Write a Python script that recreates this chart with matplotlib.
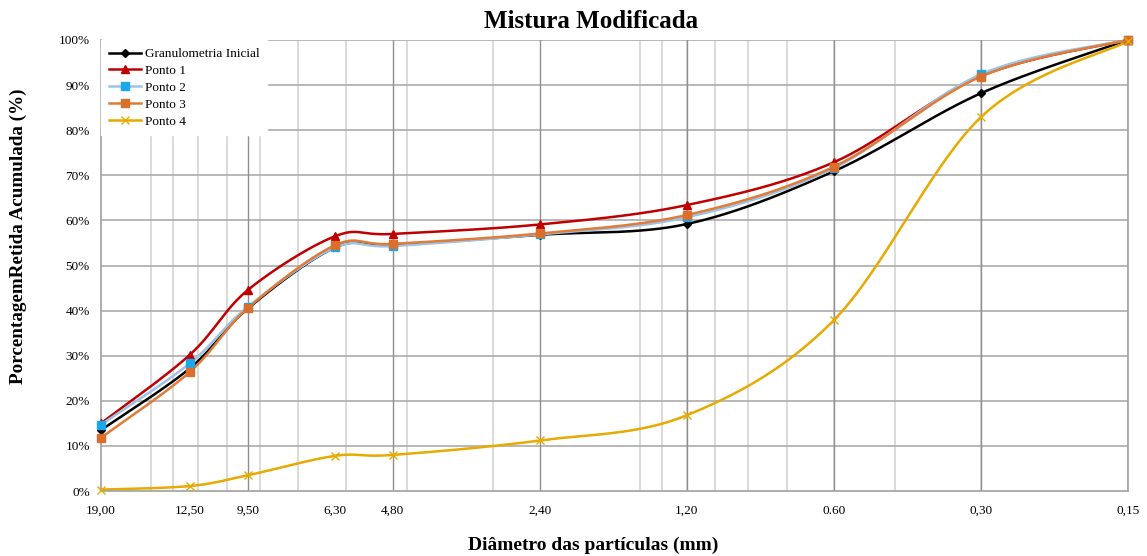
import numpy as np
import matplotlib
matplotlib.use("Agg")
import matplotlib.pyplot as plt
from matplotlib.ticker import FixedLocator, FuncFormatter, NullLocator

plt.rcParams['font.family'] = ['Liberation Serif', 'DejaVu Serif']

# sieve openings (mm)
diametros = [19.0, 12.5, 9.5, 6.3, 4.8, 2.4, 1.2, 0.6, 0.3, 0.15]
rotulos_x = ['19,00', '12,50', '9,50', '6,30', '4,80', '2,40', '1,20', '0.60', '0,30', '0,15']

# % retained (cumulative)
granulometria_inicial = [13.5, 27.2, 40.5, 54.0, 54.5, 56.8, 59.2, 70.9, 88.2, 100.0]
ponto_1 = [15.0, 30.2, 44.6, 56.5, 57.0, 59.1, 63.4, 72.9, 92.0, 100.0]
ponto_2 = [14.7, 28.3, 40.9, 54.0, 54.3, 56.9, 60.7, 71.6, 92.4, 100.0]
ponto_3 = [11.8, 26.4, 40.6, 54.5, 54.8, 57.1, 61.2, 71.9, 91.9, 100.0]
ponto_4 = [0.3, 1.1, 3.5, 7.8, 8.0, 11.2, 16.8, 37.9, 82.9, 99.7]


def suavizar(x, y, n=40):
    # Excel-like smoothed line (Catmull-Rom bezier in log-x space)
    u = np.log10(np.asarray(x, float))
    P = np.column_stack([u, np.asarray(y, float)])
    P = np.vstack([P[0], P, P[-1]])
    t = np.linspace(0, 1, n)[:, None]
    out = []
    for i in range(1, len(P) - 2):
        p0, p1, p2, p3 = P[i - 1], P[i], P[i + 1], P[i + 2]
        c1 = p1 + (p2 - p0) / 6
        c2 = p2 - (p3 - p1) / 6
        seg = ((1 - t) ** 3) * p1 + 3 * ((1 - t) ** 2) * t * c1 + 3 * (1 - t) * t ** 2 * c2 + t ** 3 * p2
        out.append(seg)
    out = np.vstack(out)
    return 10 ** out[:, 0], out[:, 1]


W, H = 1147, 556
fig = plt.figure(figsize=(W / 100, H / 100), dpi=100)
ax = fig.add_axes([101 / W, 1 - 491 / H, (1128 - 101) / W, (491 - 40) / H])

ax.set_xscale('log')
ax.set_xlim(19.0, 0.15)
ax.set_ylim(0, 100)

# minor gridlines as in Excel log axis based at 0.15
grade = [0.15 * k * 10 ** e for e in range(0, 3) for k in range(2, 10)]
grade = [g for g in grade if 0.15 < g < 19] + [1.5, 15.0]
for g in grade:
    ax.axvline(g, color='#d4d4d4', lw=1.2, zorder=0)
for g in [9.5, 4.8, 2.4, 1.2, 0.6, 0.3, 0.15]:
    ax.axvline(g, color='#8f8f8f', lw=1.0, zorder=0.5)
for yv in range(10, 101, 10):
    ax.axhline(yv, color='#ababab', lw=1.2, zorder=0.4)

series = [
    ('Granulometria Inicial', granulometria_inicial, '#000000', '#000000', 'D', 4),
    ('Ponto 1', ponto_1, '#C00000', '#C00000', '^', 6),
    ('Ponto 2', ponto_2, '#9DC3E6', '#1AA7EC', 's', 6),
    ('Ponto 3', ponto_3, '#E07B39', '#D96F2B', 's', 6),
    ('Ponto 4', ponto_4, '#E6AA00', '#E6AA00', 'x', 6),
]
for nome, vals, cor, cor_m, mk, ms in series:
    xs, ys = suavizar(diametros, vals)
    ax.plot(xs, ys, color=cor, lw=1.8, zorder=2, clip_on=False)
    ax.plot(diametros, vals, linestyle='none', marker=mk, markersize=ms,
            color=cor_m, markeredgecolor=cor_m, zorder=3, clip_on=False)
    ax.plot([], [], color=cor, lw=1.8, marker=mk, markersize=ms,
            markerfacecolor=cor_m, markeredgecolor=cor_m, label=nome)

ax.xaxis.set_major_locator(FixedLocator(diametros))
ax.xaxis.set_minor_locator(NullLocator())
ax.set_xticklabels(rotulos_x)
ax.set_yticks(range(0, 101, 10))
ax.yaxis.set_major_formatter(FuncFormatter(lambda v, p: '%d%%' % v))
ax.tick_params(axis='both', labelsize=9.5, length=0, pad=10)
ax.tick_params(axis='y', pad=8)

for s in ax.spines.values():
    s.set_color('#a0a0a0')
    s.set_linewidth(1.2)
ax.spines['top'].set_visible(False)

fig.text(591 / W, 1 - 21 / H, 'Mistura Modificada', fontsize=18, fontweight='bold',
         ha='center', va='center')
fig.text(593 / W, 1 - 545 / H, 'Diâmetro das partículas (mm)', fontsize=14,
         fontweight='bold', ha='center', va='center')
fig.text(18 / W, 1 - 236 / H, 'PorcentagemRetida Acumulada (%)', fontsize=13.8,
         fontweight='bold', ha='center', va='center', rotation=90)

leg = ax.legend(loc='upper left', fontsize=9.5, frameon=True, fancybox=False,
                borderaxespad=0.0, handlelength=2.4, labelspacing=0.35,
                handletextpad=0.3, borderpad=0.6)
leg.get_frame().set_edgecolor('white')
leg.get_frame().set_facecolor('white')
leg.get_frame().set_alpha(1)
leg.set_zorder(5)

fig.savefig('out.png', dpi=100)
